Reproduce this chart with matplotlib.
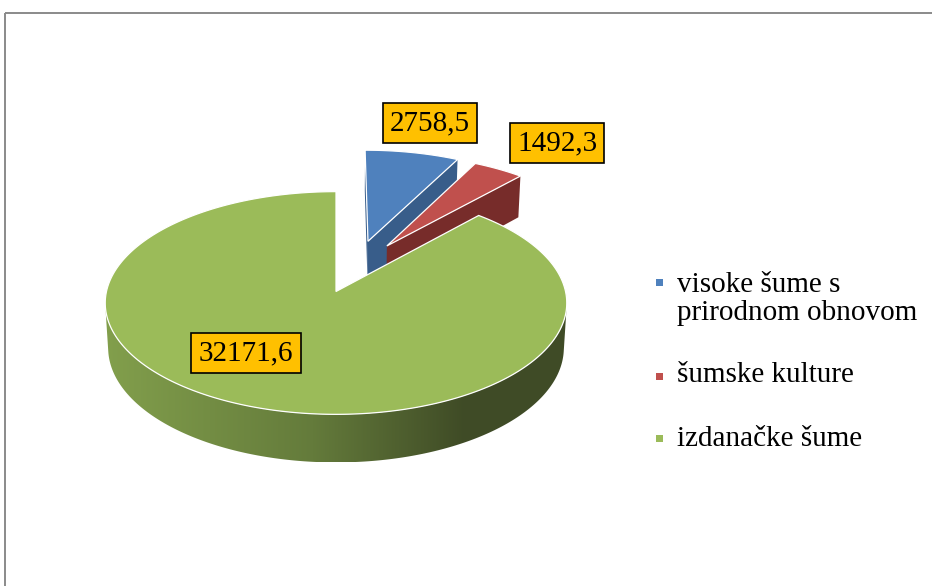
import numpy as np
import matplotlib.pyplot as plt
from matplotlib.patches import Polygon, Rectangle
from matplotlib.colors import LinearSegmentedColormap

# data
categories = ['visoke šume s\nprirodnom obnovom', 'šumske kulture', 'izdanačke šume']
values = [2758.5, 1492.3, 32171.6]
value_labels = ['2758,5', '1492,3', '32171,6']

# styles
top_colors = ['#4F81BD', '#C0504D', '#9BBB59']
side_colors = ['#385D8A', '#772C2A', '#5F7638']
green_side = LinearSegmentedColormap.from_list(
    'gside', [(0.0, '#829F4C'), (0.45, '#647B3B'), (0.78, '#3F4B26'), (1.0, '#404C27')])
explode = [(0.50, 17.0), (0.49, 28.2), (0.0, 0.0)]   # distance, direction (deg clockwise from 12h)
label_pos = [(430, 123), (557, 143), (246, 353)]
legend_y = [299, 375, 439]
marker_y = [282, 376, 438]

plt.rcParams['font.family'] = ['Liberation Serif', 'DejaVu Serif']

# 3D view (pixel units)
CX, CY = 336, 291.5
SCALE = 1951
DIST = 8.5
SIN_A, COS_A = 0.48, 0.877
H = 0.225
CAM = np.array([0.0, -DIST * COS_A, DIST * SIN_A])


def project(X, Y, Z):
    X, Y, Z = np.asarray(X, float), np.asarray(Y, float), np.asarray(Z, float)
    depth = DIST + COS_A * Y - SIN_A * Z
    return CX + SCALE * X / depth, CY - SCALE * (SIN_A * Y + COS_A * Z) / depth


fig = plt.figure(figsize=(9.32, 5.86), dpi=100)
ax = fig.add_axes([0, 0, 1, 1])
ax.set_xlim(0, 932)
ax.set_ylim(586, 0)
ax.axis('off')

total = sum(values)
edges = np.concatenate([[0], np.cumsum(values)]) / total * 360
z = 2

for i in range(len(values)):
    a0, a1 = edges[i], edges[i + 1]
    dist, ang = explode[i]
    ox, oy = dist * np.sin(np.radians(ang)), dist * np.cos(np.radians(ang))
    th = np.radians(np.linspace(a0, a1, 400))
    ax_x, ax_y = ox + np.sin(th), oy + np.cos(th)

    # outer cylinder face (only the part facing the camera)
    vis = ((CAM[0] - ax_x) * np.sin(th) + (CAM[1] - ax_y) * np.cos(th)) > 0
    if vis.any():
        tx, ty = project(ax_x[vis], ax_y[vis], 0 * ax_x[vis])
        bx, by = project(ax_x[vis], ax_y[vis], 0 * ax_x[vis] - H)
        pts = np.column_stack([np.concatenate([tx, bx[::-1]]), np.concatenate([ty, by[::-1]])])
        band = Polygon(pts, closed=True, fc='none', ec='none', zorder=z)
        ax.add_patch(band)
        if i == 2:
            x0, x1 = pts[:, 0].min(), pts[:, 0].max()
            grad = np.linspace(0, 1, 256).reshape(1, -1)
            im = ax.imshow(grad, cmap=green_side, aspect='auto', zorder=z,
                           extent=(x0, x1, pts[:, 1].max(), pts[:, 1].min()))
            im.set_clip_path(band)
        else:
            band.set_facecolor(side_colors[i])
        z += 1

    # radial side faces
    for a, sgn in ((a0, -1), (a1, 1)):
        r = np.radians(a)
        n = np.array([sgn * np.cos(r), -sgn * np.sin(r)])
        if (CAM[0] - ox) * n[0] + (CAM[1] - oy) * n[1] <= 1e-6:
            continue
        qx = [ox, ox + np.sin(r), ox + np.sin(r), ox]
        qy = [oy, oy + np.cos(r), oy + np.cos(r), oy]
        qz = [0, 0, -H, -H]
        px, py = project(qx, qy, qz)
        ax.add_patch(Polygon(np.column_stack([px, py]), closed=True,
                             fc=side_colors[i], ec='none', zorder=z))
        z += 1

    # top face
    tx, ty = project(np.concatenate([[ox], ax_x]), np.concatenate([[oy], ax_y]),
                     np.zeros(len(th) + 1))
    ax.add_patch(Polygon(np.column_stack([tx, ty]), closed=True, fc=top_colors[i],
                         ec='white', lw=0.9, zorder=z))
    z += 1

# value labels
for (lx, ly), txt in zip(label_pos, value_labels):
    ax.text(lx, ly, txt, fontsize=21, ha='center', va='center', zorder=50,
            bbox=dict(boxstyle='square,pad=0.25', fc='#FFC000', ec='black', lw=1.2))

# legend
for cat, col, ty, my in zip(categories, top_colors, legend_y, marker_y):
    ax.add_patch(Rectangle((655.5, my - 3.5), 7, 7, fc=col, ec='none', zorder=50))
    ax.text(677, ty, cat, fontsize=21, ha='left', va='center', linespacing=1.05, zorder=50)

# chart frame
ax.add_patch(Rectangle((4.5, 12.5), 1200, 1000, fill=False, ec='#8A8A8A', lw=1.4, zorder=60))

fig.savefig('out.png', dpi=100)
